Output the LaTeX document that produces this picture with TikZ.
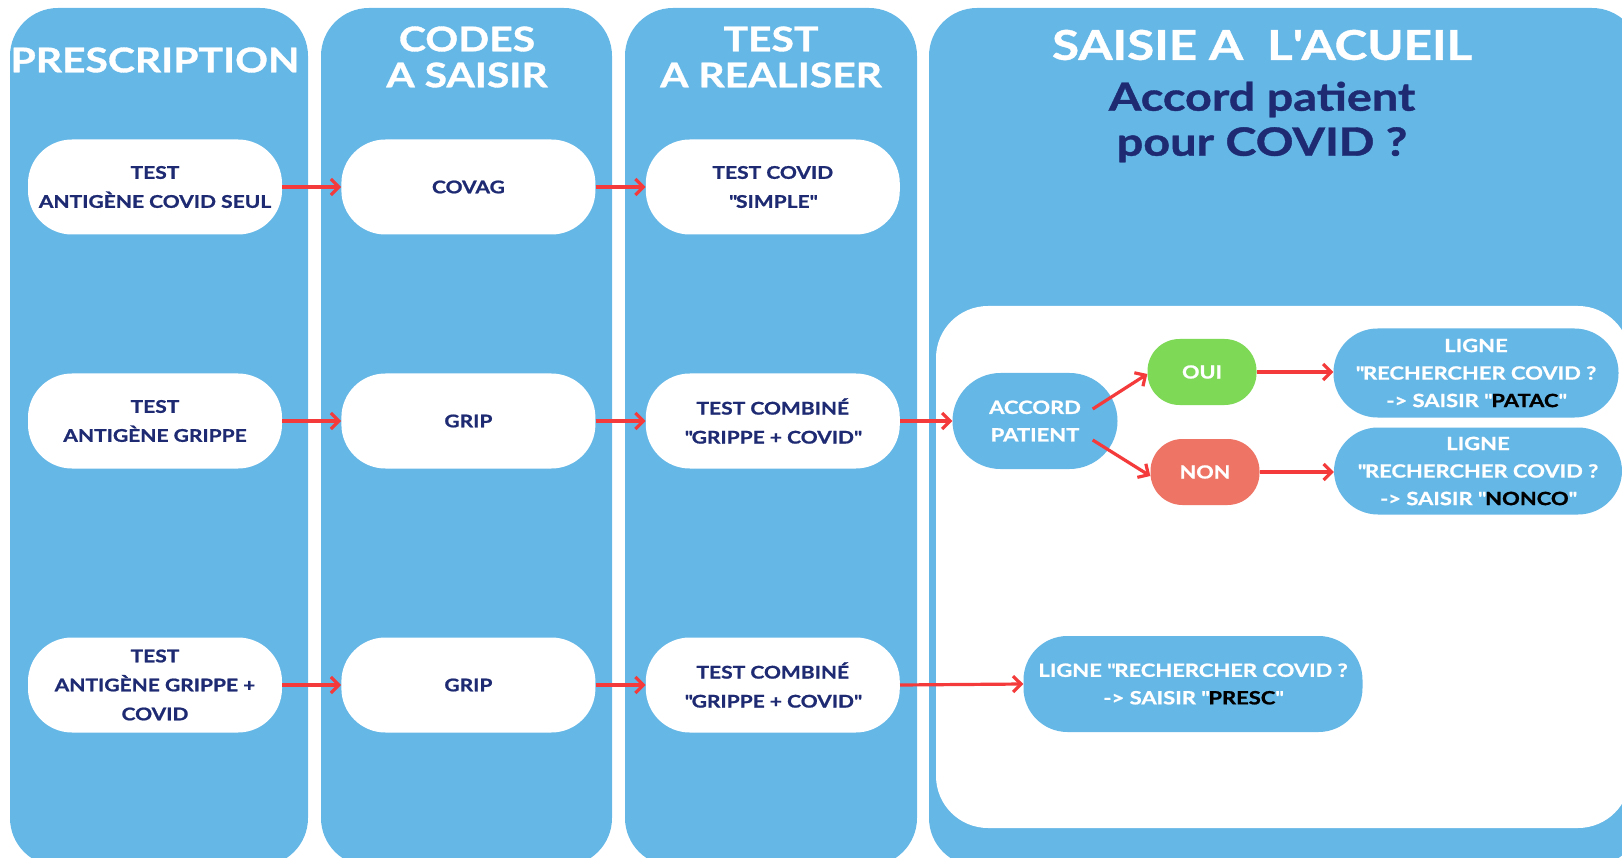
\documentclass[tikz,border=0pt]{standalone}
\usepackage{fontspec}
\setmainfont{Lato}[FakeStretch=1.2, BoldFeatures={FakeBold=1}]
\usetikzlibrary{positioning,arrows.meta}
\definecolor{colblue}{HTML}{65B7E6}
\definecolor{navy}{HTML}{1E2B73}
\definecolor{arrred}{HTML}{F43A3A}
\definecolor{ouigreen}{HTML}{7ED957}
\definecolor{nonred}{HTML}{EE7566}
\newcommand{\qt}{\textquotedbl}

\begin{document}
\begin{tikzpicture}[x=1pt,y=-1pt,
	colbox/.style={fill=colblue, rounded corners=48pt},
	panel/.style={fill=white, rounded corners=52pt},
	headtext/.style={text=white, font=\bfseries\fontsize{34}{36}\selectfont, align=center},
	whitenode/.style={rectangle, fill=white, rounded corners=44pt, minimum width=254pt, minimum height=95pt, inner sep=0pt, text=navy, align=center, font=\bfseries\fontsize{17.5}{29}\selectfont},
	bluenode/.style={rectangle, fill=colblue, rounded corners=44pt, inner sep=0pt, text=white, align=center, font=\bfseries\fontsize{18.3}{27.5}\selectfont},
	choicenode/.style={rectangle, rounded corners=32pt, minimum width=109pt, minimum height=66pt, inner sep=0pt, text=white, font=\bfseries\fontsize{18}{27.5}\selectfont},
	arr/.style={draw=arrred, line width=3.2pt, -{Straight Barb[length=8pt,width=16pt]}},
	]
	
	\clip (0,0) rectangle (1622,858);
	
	%Columns
	\fill[colbox] (10,8) rectangle (308,866);
	\fill[colbox] (321,8) rectangle (612,866);
	\fill[colbox] (625,8) rectangle (917,866);
	\fill[colbox] (929,8) rectangle (1640,866);
	\fill[panel] (936,306) rectangle (1630,828);
	
	%Headers
	\node[headtext] (HeadPresc) at (155,60) {PRESCRIPTION};
	\node[headtext] (HeadCodes) at (467,57) {CODES\\A SAISIR};
	\node[headtext] (HeadTest) at (771,57) {TEST\\A REALISER};
	\node[headtext, font=\bfseries\fontsize{41}{42}\selectfont] (HeadSaisie) at (1262,45) {SAISIE A\ \ L\textquotesingle ACUEIL};
	\node[text=navy, font=\bfseries\fontsize{39}{45}\selectfont, align=center] (Question) at (1262,122) {Accord patient\\pour COVID ?};
	
	%Nodes
	\node[whitenode] (Presc1) at (155,187) {TEST\\ANTIGÈNE COVID SEUL};
	\node[whitenode] (Code1) [right=59pt of Presc1] {COVAG};
	\node[whitenode] (Test1) [right=50pt of Code1] {TEST COVID\\\qt SIMPLE\qt};
	\node[whitenode] (Presc2) at (155,421) {TEST\\ANTIGÈNE GRIPPE};
	\node[whitenode] (Code2) [right=59pt of Presc2] {GRIP};
	\node[whitenode] (Test2) [right=50pt of Code2] {TEST COMBINÉ\\\qt GRIPPE + COVID\qt};
	\node[whitenode] (Presc3) at (155,685) {TEST\\ANTIGÈNE GRIPPE +\\COVID};
	\node[whitenode] (Code3) [right=59pt of Presc3] {GRIP};
	\node[whitenode] (Test3) [right=50pt of Code3] {TEST COMBINÉ\\\qt GRIPPE + COVID\qt};
	
	\node[bluenode, minimum width=165pt, minimum height=96pt, rounded corners=48pt] (Accord) at (1035,421) {ACCORD\\PATIENT};
	\node[choicenode, fill=ouigreen] (Oui) at (1202,372) {OUI};
	\node[choicenode, fill=nonred] (Non) at (1205,472) {NON};
	\node[bluenode, minimum width=285pt, minimum height=89pt] (Patac) at (1476,373) {LIGNE\\\qt RECHERCHER COVID ?\\-> SAISIR \qt\textcolor{black}{PATAC}\qt};
	\node[bluenode, minimum width=288pt, minimum height=87pt] (Nonco) at (1478,471) {LIGNE\\\qt RECHERCHER COVID ?\\-> SAISIR \qt\textcolor{black}{NONCO}\qt};
	\node[bluenode, minimum width=339pt, minimum height=96pt] (Presc) at (1193,684) {LIGNE \qt RECHERCHER COVID ?\\-> SAISIR \qt\textcolor{black}{PRESC}\qt};
	
	%Lines
	\draw[arr] (Presc1.east) -- (Code1.west);
	\draw[arr] (Code1.east) -- (Test1.west);
	\draw[arr] (Presc2.east) -- (Code2.west);
	\draw[arr] (Code2.east) -- (Test2.west);
	\draw[arr] (Presc3.east) -- (Code3.west);
	\draw[arr] (Code3.east) -- (Test3.west);
	\draw[arr] (Test2.east) -- (Accord.west);
	\draw[arr] (Test3.east) -- (Presc.west);
	\draw[arr] ([xshift=-25pt,yshift=12pt]Accord.east) -- ([yshift=-2pt]Oui.west);
	\draw[arr] ([xshift=-25pt,yshift=-19pt]Accord.east) -- ([yshift=-4pt]Non.west);
	\draw[arr] (Oui.east) -- (Oui.east -| Patac.west);
	\draw[arr] (Non.east) -- (Non.east -| Nonco.west);
	
\end{tikzpicture}
\end{document}
